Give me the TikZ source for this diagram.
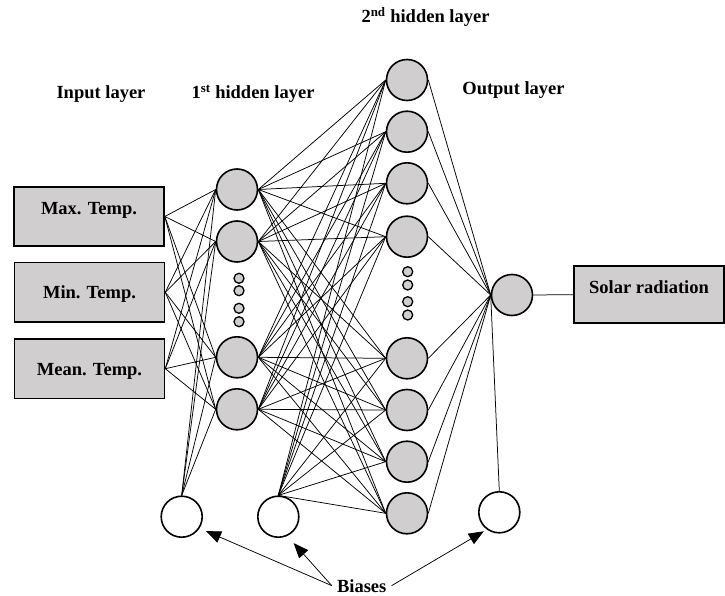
\documentclass[tikz,border=0pt]{standalone}
\usepackage{fontspec}
\setmainfont{Liberation Serif}
\usetikzlibrary{arrows.meta}
\definecolor{cellgray}{RGB}{208,206,206}
\tikzset{
  txt/.style={font=\fontsize{18.5}{22}\selectfont\bfseries,inner sep=0pt},
  neuron/.style={circle,draw,line width=1.6pt,fill=cellgray,minimum size=41pt,inner sep=0pt},
  biasnode/.style={neuron,fill=white},
  minidot/.style={circle,draw,line width=1.3pt,fill=cellgray,minimum size=10pt,inner sep=0pt},
  databox/.style={draw,line width=1.6pt,fill=cellgray,minimum width=150pt,minimum height=59.5pt,
    txt,text height=13pt,text depth=0pt},
  wire/.style={line width=0.75pt}
}
\begin{document}
\begin{tikzpicture}[x=1pt,y=-1pt,>={Triangle[length=15pt,width=12pt]}]
\useasboundingbox (0,0) rectangle (725,596);
\path
(89,216.5)   node[databox,text depth=17.4pt] (x1) {Max. Temp.}
(89.5,292.3) node[databox] (x2) {Min. Temp.}
(89.5,368.7) node[databox] (x3) {Mean. Temp.}
(512,295)    node[neuron] (o) {}
(649,294.5)  node[databox,minimum height=57.5pt,text depth=15.4pt] (y) {Solar radiation}
(181.7,516.7) node[biasnode] (b1) {}
(278.3,516.7) node[biasnode] (b2) {}
(499.3,512.3) node[biasnode] (b3) {};

% hidden layers
\foreach \y [count=\i] in {189.5,241.5,357.3,409.3}
  \node[neuron] (h\i) at (237,\y) {};
\foreach \y [count=\i] in {80,131.7,183.3,236.7,358.3,410,461.7,513.3}
  \node[neuron] (k\i) at (407,\y) {};
\foreach \y [count=\i] in {278.3,290.7,308.3,321.7}
  \node[minidot] (d\i) at (239,\y) {};
\foreach \y [count=\i] in {271.7,285,301.7,315}
  \node[minidot] (e\i) at (407.7,\y) {};

% layer titles
\node[txt,anchor=base] (t1) at (101,99) {Input layer};
\node[txt,anchor=base] (t2) at (253,99) {1\textsuperscript{st} hidden layer};
\node[txt,anchor=base] (t3) at (425.5,23) {2\textsuperscript{nd} hidden layer};
\node[txt,anchor=base] (t4) at (513.5,95) {Output layer};
\node[txt,anchor=base,inner sep=5pt] (B) at (361.7,592) {Biases};

% weights
\foreach \i in {1,2,3}
  \foreach \j in {1,...,4}
    \draw[wire] (x\i.east) -- (h\j.west);
\foreach \j in {1,...,4}
  \draw[wire] (b1.north) -- (h\j.west);
\foreach \i in {1,...,4}
  \foreach \j in {1,...,8}
    \draw[wire] (h\i.east) -- (k\j.west);
\foreach \j in {1,...,8}
  \draw[wire] (b2.north) -- (k\j.west);
\foreach \j in {1,...,8}
  \draw[wire] (k\j.east) -- (o.west);
\draw[wire] (b3.north) -- (o.west);
\draw[wire] (o) -- (y);

% bias pointers
\draw[wire,->,shorten >=7pt] (B.west) -- (b1.-33);
\draw[wire,->,shorten >=9.5pt] (B.west) -- (b2.-65);
\draw[wire,->,shorten >=3.5pt] (B.east) -- (b3.-126);
\end{tikzpicture}
\end{document}
